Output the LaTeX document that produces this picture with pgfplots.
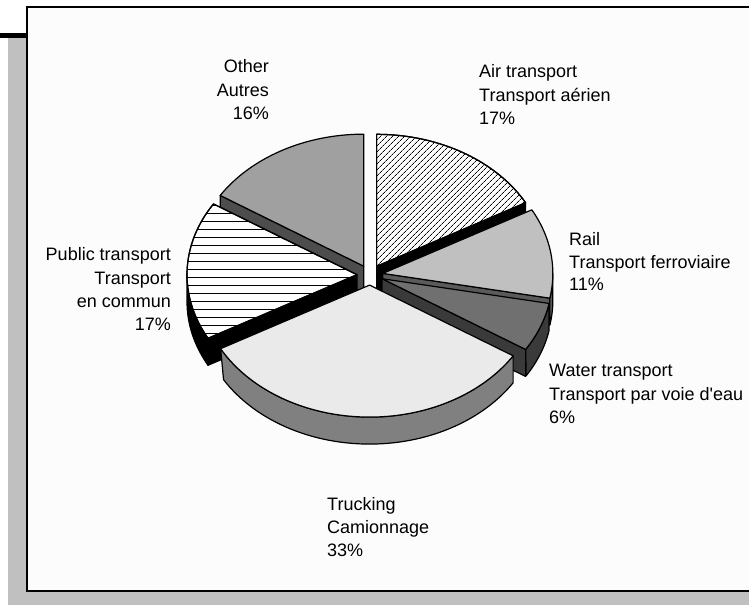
\documentclass[border=0pt]{standalone}
\usepackage{fontspec}
\setmainfont{Liberation Sans}[Ligatures=TeXOff]
\usepackage{pgfplots}
\pgfplotsset{compat=1.18}
\usetikzlibrary{patterns.meta}

\definecolor{framebg}{HTML}{FCFCFC}
\definecolor{shadowgray}{HTML}{C0C0C0}
\definecolor{otherTop}{HTML}{A0A0A0}
\definecolor{otherSide}{HTML}{4D4D4D}
\definecolor{railTop}{HTML}{C0C0C0}
\definecolor{railSide}{HTML}{5A5A5A}
\definecolor{waterTop}{HTML}{707070}
\definecolor{waterSide}{HTML}{3A3A3A}
\definecolor{truckTop}{HTML}{EAEAEA}
\definecolor{truckSide}{HTML}{808080}

\tikzset{lbl/.style={font=\fontsize{18}{22}\selectfont, inner sep=0pt}}

% pie geometry (pixel units)
\def\pieCx{370}\def\pieCy{275}\def\pieRx{170}\def\pieRy{132}\def\pieD{27}\def\pieExp{13}

% #1 cumulative start (%), #2 value (%), #3 top style, #4 outer side colour, #5 start face colour, #6 end face colour
\newcommand\slice[6]{%
 \pgfmathsetmacro\pieSa{3.6*#1}%
 \pgfmathsetmacro\pieEa{3.6*(#1+#2)}%
 \pgfmathsetmacro\pieMa{(\pieSa+\pieEa)/2}%
 \pgfmathsetmacro\pieAx{\pieCx+\pieExp*sin(\pieMa)}%
 \pgfmathsetmacro\pieAy{\pieCy-\pieExp*\pieRy/\pieRx*cos(\pieMa)}%
 \pgfmathsetmacro\pieAyb{\pieAy+\pieD}%
 \pgfmathsetmacro\pieSx{\pieAx+\pieRx*sin(\pieSa)}%
 \pgfmathsetmacro\pieSy{\pieAy-\pieRy*cos(\pieSa)}%
 \pgfmathsetmacro\pieSyb{\pieSy+\pieD}%
 \pgfmathsetmacro\pieEnx{\pieAx+\pieRx*sin(\pieEa)}%
 \pgfmathsetmacro\pieEny{\pieAy-\pieRy*cos(\pieEa)}%
 \pgfmathsetmacro\pieEnyb{\pieEny+\pieD}%
 \pgfmathtruncatemacro\pieShowS{(\pieSa>180)&&(\pieSa<360)}%
 \pgfmathtruncatemacro\pieShowE{(\pieEa>0)&&(\pieEa<180)}%
 \pgfmathsetmacro\pieVa{max(\pieSa,90)}%
 \pgfmathsetmacro\pieVb{min(\pieEa,270)}%
 \pgfmathtruncatemacro\pieShowO{\pieVb>\pieVa}%
 \ifnum\pieShowS=1
  \edef\pieTmp{\noexpand\addplot[fill=#5, draw=black, line width=1.2pt, line join=round] coordinates {(\pieAx,\pieAy) (\pieSx,\pieSy) (\pieSx,\pieSyb) (\pieAx,\pieAyb)} -- cycle;}\pieTmp
 \fi
 \ifnum\pieShowE=1
  \edef\pieTmp{\noexpand\addplot[fill=#6, draw=black, line width=1.2pt, line join=round] coordinates {(\pieAx,\pieAy) (\pieEnx,\pieEny) (\pieEnx,\pieEnyb) (\pieAx,\pieAyb)} -- cycle;}\pieTmp
 \fi
 \ifnum\pieShowO=1
  \edef\pieTmp{\noexpand\addplot[fill=#4, draw=black, line width=1.2pt, line join=round, domain=0:2, samples=121] ({\pieAx+\pieRx*sin(\pieVa+(\pieVb-\pieVa)*min(x,2-x))}, {\pieAy-\pieRy*cos(\pieVa+(\pieVb-\pieVa)*min(x,2-x))+\pieD*(x>1)}) -- cycle;}\pieTmp
 \fi
 \edef\pieTmp{\noexpand\addplot[#3, draw=black, line width=1.2pt, line join=round, domain=\pieSa:\pieEa, samples=80] ({\pieAx+\pieRx*sin(x)}, {\pieAy-\pieRy*cos(x)}) -- (axis cs:\pieAx,\pieAy) -- cycle;}\pieTmp
}

\begin{document}
\begin{tikzpicture}
\begin{axis}[x=1pt, y=1pt, y dir=reverse, xmin=0, xmax=749, ymin=0, ymax=605,
  hide axis, clip=true]
 % background, shadow and frame
 \fill[white] (0,0) rectangle (749,605);
 \fill[shadowgray] (8,38) rectangle (749,605);
 \fill[black] (0,33) rectangle (27,38);
 \filldraw[fill=framebg, draw=black, line width=1.6pt] (27,7) rectangle (760,591);

 % slices, back to front (values in percent)
 \slice{0}{17}{preaction={fill=white}, pattern={Lines[angle=45,distance=4pt,line width=0.7pt]}}{black}{black}{black}
 \slice{84}{16}{fill=otherTop}{otherSide}{otherSide}{otherSide}
 \slice{17}{11}{fill=railTop}{railSide}{railSide}{railSide}
 \slice{67}{17}{preaction={fill=white}, pattern={Lines[angle=0,distance=8pt,line width=0.8pt]}}{black}{black}{black}
 \slice{28}{6}{fill=waterTop}{waterSide}{waterSide}{waterSide}
 \slice{34}{33}{fill=truckTop}{truckSide}{truckSide}{truckSide}

 % labels
 \node[lbl, anchor=base east] at (269,72) {Other};
 \node[lbl, anchor=base east] at (269,96.5) {Autres};
 \node[lbl, anchor=base east] at (269,119.5) {16\%};

 \node[lbl, anchor=base west] at (479,77.5) {Air transport};
 \node[lbl, anchor=base west] at (479,101) {Transport aérien};
 \node[lbl, anchor=base west] at (479,124) {17\%};

 \node[lbl, anchor=base west] at (569,245.5) {Rail};
 \node[lbl, anchor=base west] at (569,268) {Transport ferroviaire};
 \node[lbl, anchor=base west] at (569,290.5) {11\%};

 \node[lbl, anchor=base west] at (549,376.5) {Water transport};
 \node[lbl, anchor=base west] at (549,400) {Transport par voie d'eau};
 \node[lbl, anchor=base west] at (549,423) {6\%};

 \node[lbl, anchor=base east] at (171,260) {Public transport};
 \node[lbl, anchor=base east] at (171,284) {Transport};
 \node[lbl, anchor=base east] at (171,307) {en commun};
 \node[lbl, anchor=base east] at (171,330) {17\%};

 \node[lbl, anchor=base west] at (327,510.5) {Trucking};
 \node[lbl, anchor=base west] at (327,533.5) {Camionnage};
 \node[lbl, anchor=base west] at (327,556) {33\%};
\end{axis}
\end{tikzpicture}
\end{document}
